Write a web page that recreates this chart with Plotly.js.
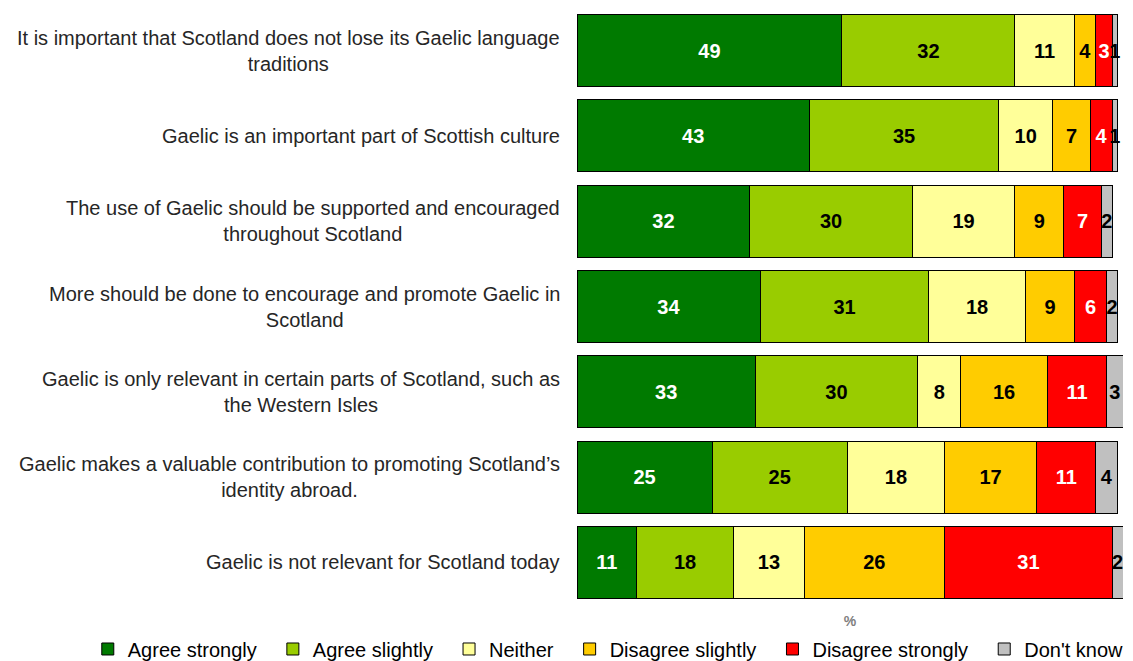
<!DOCTYPE html>
<html><head><meta charset="utf-8">
<script src="https://cdn.plot.ly/plotly-3.0.1.min.js"></script>
<style>html,body{margin:0;padding:0;background:#fff;}#chart{width:1133px;height:661px;}</style>
</head><body><div id="chart"></div>
<script>
const categories = [
  "It is important that Scotland does not lose its Gaelic language<br>traditions",
  "Gaelic is an important part of Scottish culture",
  "The use of Gaelic should be supported and encouraged<br>throughout Scotland",
  "More should be done to encourage and promote Gaelic in<br>Scotland",
  "Gaelic is only relevant in certain parts of Scotland, such as<br>the Western Isles",
  "Gaelic makes a valuable contribution to promoting Scotland’s<br>identity abroad.",
  "Gaelic is not relevant for Scotland today"
];
const seriesNames = ["Agree strongly", "Agree slightly", "Neither", "Disagree slightly", "Disagree strongly", "Don't know"];
const agreeStrongly    = [49, 43, 32, 34, 33, 25, 11];
const agreeSlightly    = [32, 35, 30, 31, 30, 25, 18];
const neither          = [11, 10, 19, 18, 8, 18, 13];
const disagreeSlightly = [4, 7, 9, 9, 16, 17, 26];
const disagreeStrongly = [3, 4, 7, 6, 11, 11, 31];
const dontKnow         = [1, 1, 2, 2, 3, 4, 2];

const series = [agreeStrongly, agreeSlightly, neither, disagreeSlightly, disagreeStrongly, dontKnow];
const colors = ["#007A00", "#99CC00", "#FFFF99", "#FFCC00", "#FF0000", "#C0C0C0"];
const textColors = ["#FFFFFF", "#000000", "#000000", "#000000", "#FFFFFF", "#000000"];
const ids = categories.map((c, i) => "c" + i);
const FONT = "Liberation Sans, Arial, sans-serif";

const traces = series.map((vals, k) => ({
  type: "bar",
  orientation: "h",
  name: seriesNames[k] + "\u00a0\u00a0",
  x: vals,
  y: ids,
  text: vals.map(String),
  textposition: "inside",
  insidetextanchor: "middle",
  textangle: 0,
  constraintext: "none",
  cliponaxis: false,
  textfont: {family: FONT, size: 20, color: textColors[k], weight: "bold"},
  marker: {color: colors[k], line: {color: "#000000", width: 1}},
  hoverinfo: "name+x"
}));

const annotations = categories.map((c, i) => ({
  xref: "paper", yref: "y",
  x: -0.0275, y: ids[i],
  xanchor: "right", yanchor: "middle",
  align: "center",
  text: c,
  showarrow: false,
  font: {family: FONT, size: 20, color: "#262626"}
}));

const layout = {
  width: 1133, height: 661,
  barmode: "stack",
  bargap: 0.155,
  margin: {l: 577, r: 10, t: 8, b: 56, autoexpand: false},
  paper_bgcolor: "#FFFFFF",
  plot_bgcolor: "#FFFFFF",
  showlegend: true,
  legend: {
    orientation: "h",
    x: -0.896, xanchor: "left",
    y: -0.0737, yanchor: "middle",
    font: {family: FONT, size: 20, color: "#000000"},
    itemwidth: 30,
    traceorder: "normal",
    tracegroupgap: 0
  },
  xaxis: {
    range: [0, 101],
    showgrid: false, zeroline: false, showticklabels: false, ticks: "",
    showline: false,
    title: {text: "<b>%</b>", font: {family: FONT, size: 14, color: "#808080"}, standoff: 11}
  },
  yaxis: {
    autorange: "reversed",
    showgrid: false, zeroline: false, showticklabels: false, ticks: "",
    showline: false
  },
  annotations: annotations
};

Plotly.newPlot("chart", traces, layout, {displayModeBar: false, staticPlot: true});
</script>
</body></html>
